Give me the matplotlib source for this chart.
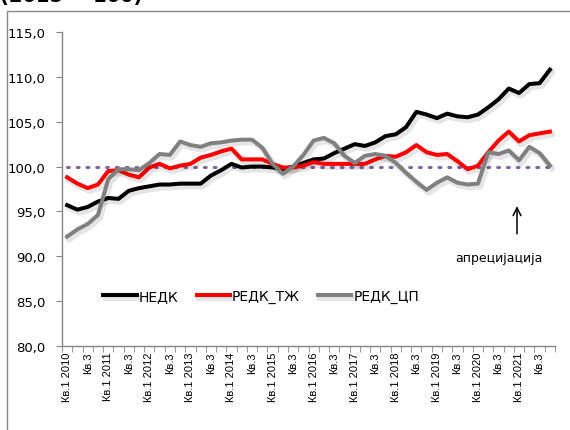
import numpy as np
import matplotlib
matplotlib.use('Agg')
import matplotlib.pyplot as plt
import matplotlib.patheffects as pe
from matplotlib.patches import Rectangle

# quarterly index values, Q1 2010 .. Q4 2021
years = list(range(2010, 2022))
nedk = [95.7, 95.2, 95.5, 96.1, 96.5, 96.4, 97.3, 97.6, 97.8, 98.0, 98.0, 98.1,
        98.1, 98.1, 99.0, 99.6, 100.3, 99.9, 100.0, 100.0, 99.9, 99.7, 100.0, 100.4,
        100.8, 100.9, 101.5, 102.0, 102.5, 102.3, 102.7, 103.4, 103.6, 104.4, 106.1, 105.8,
        105.4, 105.9, 105.6, 105.5, 105.8, 106.6, 107.5, 108.7, 108.2, 109.2, 109.3, 110.8]
redk_tz = [98.8, 98.1, 97.6, 98.0, 99.5, 99.6, 99.1, 98.8, 99.9, 100.3, 99.8, 100.1,
           100.3, 101.0, 101.3, 101.7, 102.0, 100.8, 100.8, 100.8, 100.3, 99.9, 99.9, 100.1,
           100.5, 100.3, 100.3, 100.3, 100.3, 100.3, 100.8, 101.2, 101.1, 101.6, 102.4, 101.6,
           101.3, 101.4, 100.6, 99.7, 100.1, 101.6, 102.9, 103.9, 102.8, 103.5, 103.7, 103.9]
redk_cp = [92.2, 93.0, 93.6, 94.6, 98.6, 99.7, 99.7, 99.6, 100.4, 101.4, 101.3, 102.8,
           102.4, 102.2, 102.6, 102.7, 102.9, 103.0, 103.0, 102.1, 100.3, 99.2, 100.0, 101.3,
           102.9, 103.2, 102.6, 101.2, 100.4, 101.2, 101.4, 101.2, 100.4, 99.3, 98.3, 97.4,
           98.2, 98.8, 98.2, 98.0, 98.1, 101.6, 101.4, 101.8, 100.7, 102.2, 101.5, 100.1]
base = 100.0

labels = []
for y in years:
    labels += ['Кв.1 ' + str(y), 'Кв.3']

n = len(nedk)
x = np.arange(n)

fig = plt.figure(figsize=(5.7, 4.31), dpi=100)
ax = fig.add_axes([0.1088, 0.1949, 0.8649, 0.7285])

shadow = [pe.SimpleLineShadow(offset=(1.5, -2), shadow_color='black', alpha=0.1, linewidth=4.5),
          pe.Normal()]

ax.plot(x, [base] * n, color='#8064A2', lw=2.2, linestyle=(0, (0.6, 2.6)),
        dash_capstyle='round', zorder=2)
ax.plot(x, nedk, color='black', lw=2.9, label='НЕДК', path_effects=shadow, zorder=3)
ax.plot(x, redk_tz, color='#FF0000', lw=2.9, label='РЕДК_ТЖ', path_effects=shadow, zorder=3)
ax.plot(x, redk_cp, color='#808080', lw=2.9, label='РЕДК_ЦП', path_effects=shadow, zorder=3)

ax.set_xlim(-0.5, n - 0.5)
ax.set_ylim(80, 115)
ax.set_yticks(np.arange(80, 116, 5))
ax.set_yticklabels([('%.1f' % v).replace('.', ',') for v in np.arange(80, 116, 5)],
                   fontsize=9.5, family='DejaVu Sans')

ax.set_xticks(np.arange(0, n, 2))
ax.set_xticklabels(labels, rotation=90, fontsize=8, family='Liberation Sans')
ax.set_xticks(np.arange(-0.5, n, 1), minor=True)
ax.tick_params(axis='x', which='major', length=0, pad=4)
ax.tick_params(axis='x', which='minor', length=4, color='#868686', direction='out')
ax.tick_params(axis='y', length=4, color='#868686', direction='out', pad=8)

for s in ['top', 'right']:
    ax.spines[s].set_visible(False)
for s in ['left', 'bottom']:
    ax.spines[s].set_color('#868686')
    ax.spines[s].set_linewidth(1)

leg = ax.legend(loc='center left', bbox_to_anchor=(0.07, 0.159), ncol=3, frameon=False,
                handlelength=2.4, handletextpad=0.15, columnspacing=1.3, borderpad=0,
                prop={'family': 'DejaVu Sans', 'size': 10})

# arrow pointing up, label under it
ax.annotate('', xy=(43.8, 95.9), xytext=(43.8, 92.2),
            arrowprops=dict(arrowstyle='->', color='black', lw=1.1, mutation_scale=14))
ax.text(42.0, 89.9, 'апрецијација', ha='center', va='center', fontsize=9,
        family='DejaVu Sans')

fig.add_artist(Rectangle((7 / 570, -0.1), 1.2, (431 - 12) / 431 + 0.1,
                         transform=fig.transFigure, fill=False, edgecolor='#888888', lw=1))
fig.text(0.0, (431 - 2) / 431, '(2015 = 100)', fontsize=14, fontweight='bold',
         va='baseline', ha='left')

fig.savefig('out.png', dpi=100)
